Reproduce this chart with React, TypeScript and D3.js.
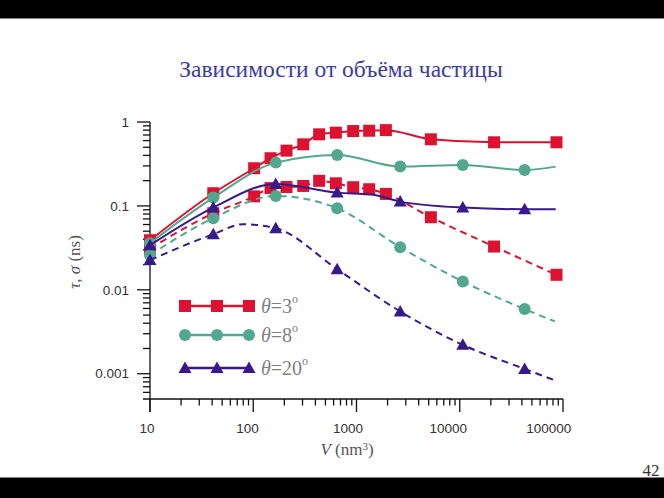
import React from "react";
import * as d3 from "d3";

const W = 664;
const H = 498;

const title = "Зависимости от объёма частицы";
const pageNumber = "42";

const yMajorTicks = [1, 0.1, 0.01, 0.001];
const yTickLabels = ["1", "0.1", "0.01", "0.001"];
const xMajorTicks = [10, 100, 1000, 10000, 100000];
const xTickLabels = ["10", "100", "1000", "10000", "100000"];

// θ = 3°
const vRed = [10, 41, 102, 147, 210, 305, 435, 631, 929, 1327, 1926, 5250, 21500, 86500];
const tauRed = [0.039, 0.1416, 0.281, 0.37, 0.456, 0.542, 0.713, 0.746, 0.78, 0.787, 0.8, 0.622, 0.573, 0.573];
const sigmaRed = [0.031, 0.0818, 0.13, 0.163, 0.168, 0.173, 0.199, 0.186, 0.167, 0.158, 0.139, 0.0733, 0.0328, 0.0151];
const markRed = [true, true, true, true, true, true, true, true, true, true, true, true, true, true];

// θ = 8°
const vGreenTau = [10, 41, 165, 650, 2650, 10700, 42500, 85000];
const tauGreen = [0.036, 0.1256, 0.328, 0.405, 0.294, 0.308, 0.268, 0.294];
const markGreenTau = [true, true, true, true, true, true, true, false];
const vGreenSigma = [10, 41, 165, 650, 2650, 10700, 42500, 83400];
const sigmaGreen = [0.026, 0.0714, 0.1316, 0.0938, 0.0322, 0.01256, 0.00589, 0.0042];
const markGreenSigma = [true, true, true, true, true, true, true, false];

// θ = 20°
const vPurpleTau = [10, 41, 165, 650, 1400, 2650, 10700, 42500, 85000];
const tauPurple = [0.034, 0.0955, 0.183, 0.144, 0.137, 0.1125, 0.0955, 0.0913, 0.0913];
const markPurpleTau = [true, true, true, true, false, true, true, true, false];
const vPurpleSigma = [10, 41, 80, 165, 650, 2650, 10700, 42500, 80000];
const sigmaPurple = [0.0226, 0.046, 0.0605, 0.0543, 0.0176, 0.00552, 0.00221, 0.00114, 0.00085];
const markPurpleSigma = [true, true, false, true, true, true, true, true, false];

const legendLabels = ["3", "8", "20"];

const RED = "#dc1230";
const GREEN = "#52a78e";
const PURPLE = "#361a8c";

const SERIF = "'Liberation Serif', 'Times New Roman', serif";
const SANS = "'Liberation Sans', Arial, sans-serif";

type Curve = {
  v: number[];
  val: number[];
  mark: boolean[];
  color: string;
  dashed: boolean;
  marker: "square" | "circle" | "triangle";
};

const curves: Curve[] = [
  { v: vRed, val: tauRed, mark: markRed, color: RED, dashed: false, marker: "square" },
  { v: vRed, val: sigmaRed, mark: markRed, color: RED, dashed: true, marker: "square" },
  { v: vGreenTau, val: tauGreen, mark: markGreenTau, color: GREEN, dashed: false, marker: "circle" },
  { v: vGreenSigma, val: sigmaGreen, mark: markGreenSigma, color: GREEN, dashed: true, marker: "circle" },
  { v: vPurpleTau, val: tauPurple, mark: markPurpleTau, color: PURPLE, dashed: false, marker: "triangle" },
  { v: vPurpleSigma, val: sigmaPurple, mark: markPurpleSigma, color: PURPLE, dashed: true, marker: "triangle" },
];

const legendItems = [
  { color: RED, marker: "square" as const },
  { color: GREEN, marker: "circle" as const },
  { color: PURPLE, marker: "triangle" as const },
];

function Marker({ kind, x, y, color }: { kind: string; x: number; y: number; color: string }) {
  if (kind === "square") return <rect x={x - 6} y={y - 6} width={12} height={12} fill={color} />;
  if (kind === "circle") return <circle cx={x} cy={y} r={6} fill={color} />;
  return <path d={`M${x},${y - 6.5}L${x + 6.5},${y + 5}L${x - 6.5},${y + 5}Z`} fill={color} />;
}

export default function App() {
  const x = d3.scaleLog().domain([10, 100000]).range([150, 563]);
  const y = d3.scaleLog().domain([0.0005, 1]).range([399, 122]);

  const line = d3
    .line<[number, number]>()
    .x((d) => x(d[0]))
    .y((d) => y(d[1]))
    .curve(d3.curveMonotoneX);

  const yMinor: number[] = [];
  [0.0001, 0.001, 0.01, 0.1].forEach((b) => {
    for (let k = 2; k <= 9; k++) {
      const t = b * k;
      if (t > 0.0005 && t < 1) yMinor.push(t);
    }
  });
  const xMinor: number[] = [];
  [10, 100, 1000, 10000].forEach((b) => {
    for (let k = 2; k <= 9; k++) xMinor.push(b * k);
  });

  const legendY = [306, 335, 368];

  return (
    <svg
      width={W}
      height={H}
      style={{ position: "absolute", left: 0, top: 0, background: "#fff" }}
      fontFamily={SERIF}
    >
      <rect x={0} y={0} width={W} height={H} fill="#fff" />
      <rect x={0} y={0} width={W} height={18.5} fill="#000" />
      <rect x={0} y={477.5} width={W} height={H - 477.5} fill="#000" />

      <text x={341} y={77} textAnchor="middle" fontSize={23.5} fill="#3b3ba8" fontFamily={SERIF}>
        {title}
      </text>

      {/* axes */}
      <g stroke="#111" strokeWidth={1.3}>
        <line x1={x(10)} x2={x(10)} y1={y(1)} y2={412} />
        <line x1={143} x2={x(100000)} y1={399} y2={399} />
        {yMajorTicks.map((t) => (
          <line key={"ym" + t} x1={137} x2={150} y1={y(t)} y2={y(t)} />
        ))}
        {yMinor.map((t) => (
          <line key={"yn" + t} x1={143} x2={150} y1={y(t)} y2={y(t)} />
        ))}
        {xMajorTicks.map((t) => (
          <line key={"xm" + t} x1={x(t)} x2={x(t)} y1={399} y2={412} />
        ))}
        {xMinor.map((t) => (
          <line key={"xn" + t} x1={x(t)} x2={x(t)} y1={399} y2={405.5} />
        ))}
      </g>

      <g fontFamily={SANS} fontSize={13.5} fill="#333">
        {yMajorTicks.map((t, i) => (
          <text key={"yl" + t} x={129} y={y(t)} dy="0.35em" textAnchor="end">
            {yTickLabels[i]}
          </text>
        ))}
        {xMajorTicks.map((t, i) => (
          <text key={"xl" + t} x={x(t) - 3 - 2.8 * i} y={433} textAnchor="middle">
            {xTickLabels[i]}
          </text>
        ))}
      </g>

      <text x={347} y={455} textAnchor="middle" fontSize={17} fill="#555" fontFamily={SERIF}>
        <tspan fontStyle="italic">V</tspan>
        <tspan> (nm</tspan>
        <tspan fontSize={11} dy={-5}>3</tspan>
        <tspan dy={5}>)</tspan>
      </text>

      <text
        transform="translate(80,262) rotate(-90)"
        textAnchor="middle"
        fontSize={17}
        fill="#555"
        fontFamily={SERIF}
      >
        <tspan fontStyle="italic">τ</tspan>
        <tspan>, </tspan>
        <tspan fontStyle="italic">σ</tspan>
        <tspan> (ns)</tspan>
      </text>

      {/* data */}
      {curves.map((c, ci) => {
        const pts: [number, number][] = c.v.map((v, i) => [v, c.val[i]]);
        return (
          <g key={"c" + ci}>
            <path
              d={line(pts) || ""}
              fill="none"
              stroke={c.color}
              strokeWidth={2}
              strokeDasharray={c.dashed ? "7,5" : undefined}
            />
            {pts.map((p, i) =>
              c.mark[i] ? (
                <Marker key={i} kind={c.marker} x={x(p[0])} y={y(p[1])} color={c.color} />
              ) : null
            )}
          </g>
        );
      })}

      {/* legend */}
      {legendItems.map((it, i) => {
        const ly = legendY[i];
        return (
          <g key={"lg" + i}>
            <line x1={185} x2={249} y1={ly} y2={ly} stroke={it.color} strokeWidth={2.5} />
            {[185, 217, 249].map((mx) => (
              <Marker key={mx} kind={it.marker} x={mx} y={ly} color={it.color} />
            ))}
            <text x={261} y={ly + 7} fontSize={20} fill="#808080" fontFamily={SERIF}>
              <tspan fontStyle="italic">θ</tspan>
              <tspan>={legendLabels[i]}</tspan>
              <tspan fontSize={12} dy={-10}>o</tspan>
            </text>
          </g>
        );
      })}

      <text x={651} y={476} textAnchor="middle" fontSize={17} fill="#333" fontFamily={SERIF}>
        {pageNumber}
      </text>
    </svg>
  );
}
